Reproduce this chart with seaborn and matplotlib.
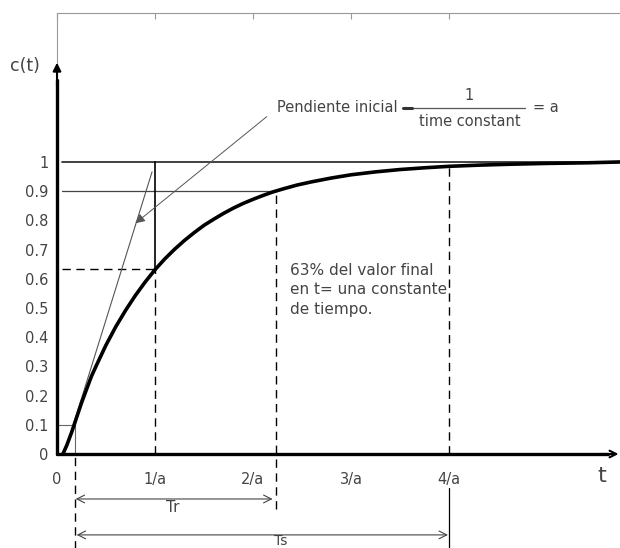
import numpy as np
import pandas as pd
import seaborn as sns
import matplotlib.pyplot as plt

# step response c(t) (t in units of 1/a)
t_vals = [0.06, 0.1, 0.15, 0.2, 0.25, 0.3, 0.35, 0.4, 0.5, 0.6, 0.7, 0.8, 0.9, 1.0,
          1.1, 1.2, 1.3, 1.4, 1.5, 1.6, 1.7, 1.8, 1.9, 2.0, 2.1, 2.2, 2.3, 2.45,
          2.6, 2.8, 3.0, 3.25, 3.5, 3.75, 4.0, 4.3, 4.6, 5.0, 5.4, 5.75]
c_vals = [0.0, 0.03, 0.075, 0.125, 0.175, 0.22, 0.265, 0.302, 0.373, 0.436, 0.492,
          0.543, 0.589, 0.631, 0.668, 0.701, 0.731, 0.758, 0.783, 0.804, 0.824,
          0.842, 0.858, 0.872, 0.885, 0.897, 0.907, 0.921, 0.932, 0.945, 0.956,
          0.966, 0.974, 0.98, 0.985, 0.989, 0.992, 0.995, 0.997, 1.0]

y_ticks = [0, 0.1, 0.2, 0.3, 0.4, 0.5, 0.6, 0.7, 0.8, 0.9, 1.0]
y_labels = ["0", "0.1", "0.2", "0.3", "0.4", "0.5", "0.6", "0.7", "0.8", "0.9", "1"]
x_ticks = [0, 1, 2, 3, 4]
x_labels = ["0", "1/a", "2/a", "3/a", "4/a"]

# reference points
t_10, c_10 = 0.18, 0.1        # 10 % point
t_tau, c_tau = 1.0, 0.632     # one time constant
t_90, c_90 = 2.23, 0.9        # 90 % point
t_s, c_s = 4.0, 0.985         # settling time
tangent_t = [0.08, 0.97]
tangent_c = [0.007, 0.966]

sns.set_style("white")
plt.rcParams['font.family'] = ['DejaVu Sans']

fig = plt.figure(figsize=(6.2, 5.48), dpi=100)
ax = fig.add_axes([57/620, 94/548, 563/620, 441/548])

df = pd.DataFrame({'t': t_vals, 'c': c_vals})
sns.lineplot(data=df, x='t', y='c', ax=ax, color='black', lw=2.6,
             sort=False, estimator=None, zorder=5)

ax.set_xlim(0, 5.745)
ax.set_ylim(0, 1.51)

dash = (0, (6, 4))
grey = '#444444'

# guide lines
ax.plot([0.05, 5.745], [1, 1], color='#333333', lw=1.3)
ax.plot([0.05, t_90], [c_90, c_90], color=grey, lw=0.9)
ax.plot([t_tau, t_tau], [c_tau, 1], color='black', lw=1.2)
ax.plot([t_tau, t_tau], [0, c_tau], color='black', lw=1.0, ls=dash)
ax.plot([0.05, t_tau], [c_tau, c_tau], color='black', lw=1.0, ls=dash)
ax.plot([t_90, t_90], [-0.19, c_90], color='black', lw=1.0, ls=dash, clip_on=False)
ax.plot([t_s, t_s], [0, c_s], color='black', lw=1.0, ls=dash)
ax.plot([t_s, t_s], [-0.33, -0.116], color='black', lw=0.9, clip_on=False)
ax.plot([t_10, t_10], [-0.33, 0], color='black', lw=1.0, ls=dash, clip_on=False)
ax.plot([t_10, t_10], [0, c_10], color='#666666', lw=0.8)
ax.plot([0, t_10], [c_10, c_10], color='#666666', lw=0.8)
ax.plot(tangent_t, tangent_c, color='#555555', lw=0.8)

# thick axes with arrows
ax.plot([0, 5.62], [0, 0], color='black', lw=2.4, clip_on=False, zorder=6)
ax.annotate('', xy=(5.73, 0), xytext=(5.55, 0),
            arrowprops=dict(arrowstyle='->', color='black', lw=1.5,
                            shrinkA=0, shrinkB=0, mutation_scale=12),
            annotation_clip=False)
ax.plot([0, 0], [0, 1.28], color='black', lw=2.4, clip_on=False, zorder=6)
ax.annotate('', xy=(0, 1.34), xytext=(0, 1.26),
            arrowprops=dict(arrowstyle='-|>', color='black', lw=1.5,
                            shrinkA=0, shrinkB=0, mutation_scale=12),
            annotation_clip=False)

# spines / ticks
for s in ['right', 'bottom']:
    ax.spines[s].set_visible(False)
for s in ['top', 'left']:
    ax.spines[s].set_color('#999999')
    ax.spines[s].set_linewidth(0.8)

ax.set_yticks(y_ticks)
ax.set_yticklabels(y_labels)
ax.set_xticks(x_ticks)
ax.set_xticklabels(x_labels)
ax.tick_params(axis='y', length=0, pad=6, labelsize=10.5, labelcolor=grey)
ax.tick_params(axis='x', bottom=False, top=True, direction='in', length=4,
               color='#999999', labelbottom=True, pad=13, labelsize=10.5,
               labelcolor=grey)
ax.set_xlabel('')
ax.set_ylabel('')

# axis names
ax.text(-0.33, 1.33, 'c(t)', fontsize=12.5, color=grey, ha='center', va='center')
ax.text(5.56, -0.075, 't', fontsize=16, color=grey, ha='center', va='center')

# rise / settling time arrows
ax.annotate('', xy=(0.19, -0.154), xytext=(2.2, -0.154),
            arrowprops=dict(arrowstyle='<->', color=grey, lw=0.8,
                            shrinkA=0, shrinkB=0, mutation_scale=14),
            annotation_clip=False)
ax.text(1.18, -0.183, 'Tr', fontsize=11, color=grey, ha='center', va='center')
ax.annotate('', xy=(0.2, -0.277), xytext=(3.99, -0.277),
            arrowprops=dict(arrowstyle='<->', color=grey, lw=0.8,
                            shrinkA=0, shrinkB=0, mutation_scale=14),
            annotation_clip=False)
ax.text(2.28, -0.297, 'Ts', fontsize=10, color=grey, ha='center', va='center')

# initial slope annotation
ax.text(2.245, 1.185, 'Pendiente inicial', fontsize=10.5, color=grey,
        ha='left', va='center')
ax.plot([3.53, 4.776], [1.185, 1.185], color='#555555', lw=0.9, clip_on=False)
ax.plot([3.53, 3.62], [1.185, 1.185], color='#333333', lw=2.2, clip_on=False)
ax.text(4.204, 1.228, '1', fontsize=10.5, color=grey, ha='center', va='center')
ax.text(4.214, 1.137, 'time constant', fontsize=10.5, color=grey,
        ha='center', va='center')
ax.text(4.857, 1.185, '= a', fontsize=10.5, color=grey, ha='left', va='center')
ax.annotate('', xy=(0.8, 0.79), xytext=(2.14, 1.155),
            arrowprops=dict(arrowstyle='-|>', color='#555555', lw=0.7,
                            shrinkA=0, shrinkB=0, mutation_scale=14),
            annotation_clip=False)

# 63 % note
ax.text(2.378, 0.562, '63% del valor final\nen t= una constante\nde tiempo.',
        fontsize=11, color=grey, ha='left', va='center', linespacing=1.35)

fig.savefig('out.png', dpi=100)
